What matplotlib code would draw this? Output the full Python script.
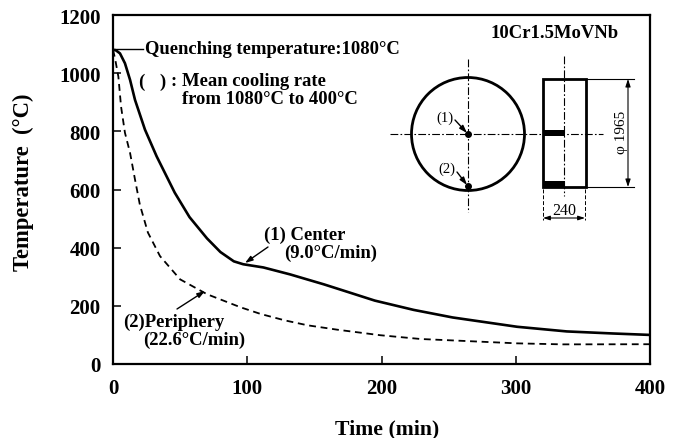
import matplotlib
matplotlib.use('Agg')
import matplotlib.pyplot as plt
from matplotlib.patches import Circle, Rectangle

# Values
center_time = [0, 2, 5.2, 8.9, 12.7, 16.4, 23.8, 32.5, 46, 57, 70, 80, 90, 97, 112, 132, 143, 157, 174, 195, 224, 253, 301, 338, 372, 400]
center_temp = [1080, 1079, 1068, 1034, 977, 908, 806, 714, 589, 505, 432, 385, 353, 343, 332, 308, 293, 274, 249, 218, 186, 160, 128, 112, 105, 100]
periph_time = [0, 1.5, 4, 6, 8.9, 12.7, 16.4, 20, 26, 35, 50, 70, 95, 110, 128, 145, 167, 199, 229, 263, 301, 335, 400]
periph_temp = [1080, 1051, 988, 885, 795, 726, 634, 548, 452, 371, 291, 240, 195, 172, 150, 133, 118, 99, 86, 79, 71, 67.5, 68]
x_ticks = [0, 100, 200, 300, 400]
y_ticks = [0, 200, 400, 600, 800, 1000, 1200]

plt.rcParams['font.family'] = ['Liberation Serif', 'DejaVu Serif']
plt.rcParams['font.weight'] = 'bold'

W, H = 681, 439
fig = plt.figure(figsize=(W / 100, H / 100), dpi=100)
ax = fig.add_axes([113 / W, 1 - 365 / H, (650 - 113) / W, (365 - 16) / H])

ax.plot(center_time, center_temp, color='black', lw=1.9)
ax.plot(periph_time, periph_temp, color='black', lw=1.3, dashes=(3.8, 2.6))

ax.set_xlim(0, 400)
ax.set_ylim(0, 1200)
ax.set_xticks(x_ticks)
ax.set_yticks(y_ticks)
ax.tick_params(axis='x', direction='in', length=5.5, width=1.1, labelsize=15, pad=10)
ax.tick_params(axis='y', direction='in', length=6, width=1.1, labelsize=15, pad=9)
for s in ax.spines.values():
    s.set_linewidth(1.6)

# Overlay in pixel coordinates for the notes and the sketch
ov = fig.add_axes([0, 0, 1, 1], facecolor='none')
ov.set_xlim(0, W)
ov.set_ylim(H, 0)
ov.axis('off')

ov.text(387, 429, 'Time (min)', fontsize=15.7, fontweight='bold', ha='center', va='center')
ov.text(23, 182, 'Temperature  (°C)', fontsize=16.3, fontweight='bold', rotation=90, ha='center', va='center')

def note(x, y, s, size=13.4, **kw):
    ov.text(x, y, s, fontsize=size, fontweight='bold', va='center', **kw)

def leader(x0, y0, x1, y1, lw=1.0):
    ov.annotate('', xy=(x1, y1), xytext=(x0, y0),
                arrowprops=dict(arrowstyle='-|>,head_width=0.15,head_length=0.45', color='black', lw=lw,
                                shrinkA=0, shrinkB=0))

note(145, 50, 'Quenching temperature:1080°C')
ov.plot([114, 143], [50, 50], color='black', lw=1.0)
note(138, 82, '(')
note(159, 82, ')')
note(171, 82, ':')
note(182, 82, 'Mean cooling rate')
note(182, 100, 'from 1080°C to 400°C')
note(264, 235, '(1) Center')
note(284, 253, '(9.0°C/min)')
note(123, 322, '(2)Periphery')
note(143, 340, '(22.6°C/min)')
leader(268, 248, 245, 264)
leader(177, 310, 205, 292)
note(490, 33, '10Cr1.5MoVNb')

# Cross section sketch
dash = dict(color='black', lw=0.8, dashes=(7, 2, 1.5, 2))
ov.add_patch(Circle((468, 135), 56.5, fill=False, ec='black', lw=2))
ov.plot([468, 468], [60, 213], **dash)
ov.plot([390, 603], [135, 135], **dash)
ov.plot([564, 564], [57, 197], **dash)
ov.add_patch(Rectangle((543, 80), 43, 108, fill=False, ec='black', lw=2))
ov.add_patch(Rectangle((543, 131), 22, 6, fc='black', ec='none'))
ov.add_patch(Rectangle((543, 182), 22, 6, fc='black', ec='none'))
ov.plot([468], [135], 'o', color='black', ms=4)
ov.plot([468], [187], 'o', color='black', ms=4)
ov.text(445, 118, '(1)', fontsize=10.5, fontweight='normal', ha='center', va='center')
ov.text(447, 169, '(2)', fontsize=10.5, fontweight='normal', ha='center', va='center')
leader(455, 121, 467, 134)
leader(457, 173, 467, 186)

# Dimension lines
ov.plot([586, 634], [80, 80], color='black', lw=0.8)
ov.plot([586, 634], [188, 188], color='black', lw=0.8)
ov.annotate('', xy=(628, 80), xytext=(628, 188),
            arrowprops=dict(arrowstyle='<|-|>,head_width=0.15,head_length=0.45', color='black', lw=0.8,
                            shrinkA=0, shrinkB=0))
ov.text(622, 132, 'φ 1965', fontsize=11, fontweight='normal', rotation=90, ha='center', va='center')
thin = dict(color='black', lw=0.7, dashes=(4, 2))
ov.plot([543, 543], [190, 221], **thin)
ov.plot([585, 585], [190, 221], **thin)
ov.annotate('', xy=(543, 219), xytext=(585, 219),
            arrowprops=dict(arrowstyle='<|-|>,head_width=0.13,head_length=0.4', color='black', lw=0.8,
                            shrinkA=0, shrinkB=0))
ov.text(564, 211, '240', fontsize=11.5, fontweight='normal', ha='center', va='center')

fig.savefig('out.png', dpi=100)
